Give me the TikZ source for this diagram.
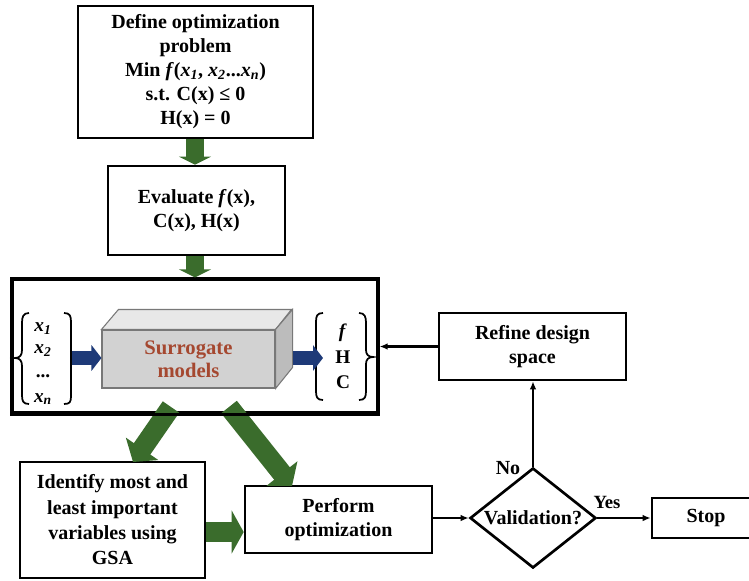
\documentclass[tikz,border=0pt]{standalone}
\usepackage{fontspec}
\setmainfont{Liberation Serif}
\usetikzlibrary{arrows.meta,shapes.geometric,calc}
\definecolor{gfill}{RGB}{58,108,44}
\definecolor{bfill}{RGB}{30,58,120}
\definecolor{surtxt}{RGB}{165,72,48}
\definecolor{frontgray}{RGB}{210,210,210}
\definecolor{topgray}{RGB}{232,232,232}
\definecolor{sidegray}{RGB}{188,188,188}
\definecolor{edgegray}{RGB}{120,120,120}
\begin{document}
\begin{tikzpicture}[x=0.75pt,y=-0.75pt,
  txt/.style={font=\fontsize{15}{18}\selectfont\bfseries, align=center},
  box/.style={txt, draw, line width=2pt, inner sep=0pt},
  conn/.style={line width=1.6pt, -{Latex[length=6pt,width=5pt]}},
  gvert/.style={gfill, line width=13.5pt, -{Triangle[length=6pt,width=24pt]}},
  gdiag/.style={gfill, line width=15pt, -{Triangle[length=12pt,width=29pt]}},
  ghor/.style={gfill, line width=15pt, -{Triangle[length=9pt,width=32pt]}},
  barr/.style={bfill, line width=10pt, -{Triangle[length=7.5pt,width=19pt]}},
  brc/.style={line width=1.3pt},
  vartxt/.style={font=\fontsize{14.5}{16}\selectfont\bfseries, inner sep=0pt}]
\useasboundingbox (0,0) rectangle (749,581);
\clip (0,0) rectangle (749,581);

% boxes
\node[box, minimum width=235*0.75pt, minimum height=132*0.75pt] (top) at (195.5,72)
  {Define optimization\\problem\\Min \textit{f}(\textit{x}\textsubscript{\textit{1}}, \textit{x}\textsubscript{\textit{2}}...\textit{x}\textsubscript{\textit{n}})\\s.t. C(x) ≤ 0\\H(x) = 0};
\node[box, minimum width=177*0.75pt, minimum height=89*0.75pt] (eval) at (196.5,210.5)
  {Evaluate \textit{f}(x),\\C(x), H(x)};
\node[draw, line width=2.4pt, minimum width=366*0.75pt, minimum height=134*0.75pt, inner sep=0pt] (big) at (195,346) {};
\node[box, minimum width=187*0.75pt, minimum height=67*0.75pt] (refine) at (532.5,346.5)
  {Refine design\\space};
\node[box, font=\fontsize{15}{19}\selectfont\bfseries, minimum width=185*0.75pt, minimum height=116*0.75pt] (ident) at (112.5,520)
  {Identify most and\\least important\\variables using\\GSA};
\node[box, minimum width=187*0.75pt, minimum height=67*0.75pt] (perf) at (338.5,519.5)
  {Perform\\optimization};
\node[draw, line width=2pt, diamond, inner sep=0pt, minimum width=126*0.75pt, minimum height=100*0.75pt,
  label={[txt]center:Validation?}] (val) at (533,518) {};
\node[box, minimum width=108*0.75pt, minimum height=40*0.75pt] (stop) at (706,518) {Stop};
\node[txt, anchor=base] (no) at (508,474) {No};
\node[txt, anchor=base, font=\fontsize{14}{17}\selectfont\bfseries] (yes) at (607,508) {Yes};

% surrogate 3D block
\node[draw=edgegray, line width=0.8pt, fill=frontgray, minimum width=173*0.75pt, minimum height=58*0.75pt,
  inner sep=0pt, txt, text=surtxt, font=\fontsize{15.5}{17}\selectfont\bfseries] (sur) at (188.5,359) {Surrogate\\models};
\filldraw[fill=topgray, draw=edgegray, line width=0.8pt] (sur.north west) -- ++(17,-20) -- ++(173,0) -- (sur.north east) -- cycle;
\filldraw[fill=sidegray, draw=edgegray, line width=0.8pt] (sur.north east) -- ++(17,-20) -- ++(0,58) -- (sur.south east) -- cycle;

% inputs / outputs
\node[vartxt] (x1) at (43,329) {\textit{x}\textsubscript{\textit{1}}};
\node[vartxt] (x2) at (43,351) {\textit{x}\textsubscript{\textit{2}}};
\node[vartxt] (xd) at (43,376) {...};
\node[vartxt] (xn) at (43,399) {\textit{x}\textsubscript{\textit{n}}};
\node[vartxt] (of) at (343,333) {\textit{f}};
\node[vartxt] (oh) at (343,357) {H};
\node[vartxt] (oc) at (343,382) {C};
% braces
\draw[brc] (29,313) .. controls (23,313) and (22,317) .. (22,323) -- (22,350) .. controls (22,355) and (20,358) .. (15,358)
  .. controls (20,358) and (22,361) .. (22,366) -- (22,395) .. controls (22,401) and (23,404) .. (29,404);
\draw[brc] (64,313) .. controls (70,313) and (71,316) .. (71,322) -- (71,396) .. controls (71,402) and (70,404) .. (64,404);
\draw[brc] (323,313) .. controls (317,313) and (316,316) .. (316,322) -- (316,391) .. controls (316,397) and (317,400) .. (323,400);
\draw[brc] (359,313) .. controls (365,313) and (366,317) .. (366,323) -- (366,350) .. controls (366,354) and (368,357) .. (373,357)
  .. controls (368,357) and (366,360) .. (366,364) -- (366,391) .. controls (366,397) and (365,400) .. (359,400);

% blue arrows
\draw[barr] (72,358) -- (sur.west |- 0,358);
\draw[barr] (293,358) -- (323,358);

% green block arrows
\draw[gvert] (top.south -| 195,0) -- (eval.north -| 195,0);
\draw[gvert] (eval.south -| 195,0) -- (big.north -| 195,0);
\coordinate (d1s) at (171,407);
\coordinate (d1e) at (133,462);
\coordinate (d2s) at (229,407);
\coordinate (d2e) at (292,486);
\draw[gdiag] (d1s) -- (d1e);
\draw[gdiag] (d2s) -- (d2e);
\draw[ghor] ($(ident.east)+(0,12)$) -- ($(perf.west)+(0,12.5)$);
% redraw big box border over arrow starts
\draw[line width=2.4pt] (big.south west) -- (big.south east);

% connectors
\draw[conn] (refine.west) -- (refine.west -| big.east);
\draw[conn] (val.north) -- (val.north |- refine.south);
\draw[conn] (val.west -| perf.east) -- (val.west);
\draw[conn] (val.east) -- (val.east -| stop.west);
\end{tikzpicture}
\end{document}
